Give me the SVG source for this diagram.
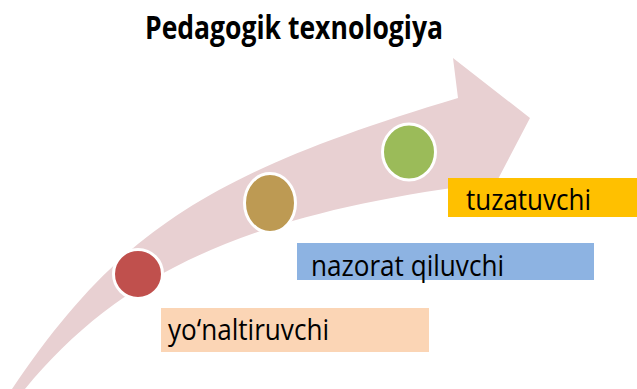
<svg xmlns="http://www.w3.org/2000/svg" width="637" height="389" viewBox="0 0 637 389">
<style>
.lbl{font-family:"Open Sans","Noto Sans","Liberation Sans",sans-serif;font-size:29px;fill:#000}
.ttl{font-family:"Open Sans","Noto Sans","Liberation Sans",sans-serif;font-size:33px;font-weight:bold;fill:#000}
.dot{stroke:#fff;stroke-width:3}
</style>
<rect width="637" height="389" fill="#fff"/>
<g id="arrow">
<path d="M12,389 C118,232 208,173 458,98 L453,58 L530,118 L475,223 L496,182 C250,212 121,272 25,389 Z" fill="#E8D0D2"/>
</g>
<g id="title"><text class="ttl" x="145" y="39" textLength="298" lengthAdjust="spacingAndGlyphs">Pedagogik texnologiya</text></g>
<g id="node-red"><circle class="dot" cx="138" cy="274" r="24.5" fill="#C0504D"/></g>
<g id="node-brown"><ellipse class="dot" cx="270" cy="203" rx="25.5" ry="29.5" fill="#BD9A53"/></g>
<g id="node-green"><ellipse class="dot" cx="409" cy="152" rx="26.5" ry="28" fill="#9BBB59"/></g>
<g id="box-tuzatuvchi"><rect x="448" y="178" width="189" height="39" fill="#FFC000"/><text class="lbl" x="466" y="210" textLength="125" lengthAdjust="spacingAndGlyphs">tuzatuvchi</text></g>
<g id="box-nazorat"><rect x="297" y="243" width="297" height="37" fill="#8DB3E2"/><text class="lbl" x="311" y="275.5" textLength="193" lengthAdjust="spacingAndGlyphs">nazorat qiluvchi</text></g>
<g id="box-yonaltiruvchi"><rect x="161" y="308" width="268" height="44" fill="#FBD5B5"/><text class="lbl" x="168" y="340" textLength="161" lengthAdjust="spacingAndGlyphs">yo‘naltiruvchi</text></g>
<g id="connectors"/>
</svg>
